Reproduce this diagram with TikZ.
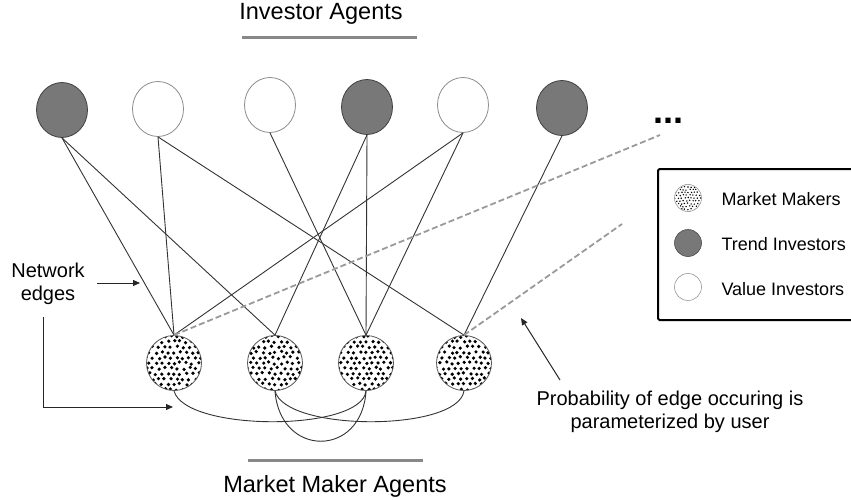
\documentclass[tikz,border=0pt]{standalone}
\usepackage{fontspec}
\setmainfont{Liberation Sans}
\usetikzlibrary{shapes.geometric,arrows.meta,calc}
\definecolor{trendgray}{HTML}{787878}
\definecolor{linegray}{HTML}{888888}
\definecolor{dashgray}{HTML}{9A9A9A}
\begin{document}
\begin{tikzpicture}[x=1pt,y=-1pt,
  inv/.style={ellipse, minimum width=51pt, minimum height=55pt, inner sep=0pt, line width=0.8pt},
  trend/.style={inv, fill=trendgray, draw=black!75},
  value/.style={inv, fill=white, draw=black!45},
  mmdots/.style 2 args={path picture={
    \foreach \j in {-5,...,5}{
      \foreach \i in {-5,...,5}{
        \fill[black] ($(path picture bounding box.center)+({(\i+0.5*mod(abs(\j),2))*#1+0.18*#1*rand},{\j*0.87*#1+0.18*#1*rand})$) circle (#2);
      }}}},
  mm/.style={circle, minimum size=55pt, inner sep=0pt, draw=black!65, line width=0.8pt, fill=white, mmdots={6.1}{1.8pt}},
  edge/.style={draw=black!80, line width=0.9pt},
  prob/.style={draw=dashgray, line width=1.8pt, dash pattern=on 6pt off 3pt},
  arr/.style={draw=black!85, line width=1pt, -{Triangle[length=7pt,width=6pt]}},
  bigtxt/.style={font=\fontsize{23.5}{28}\selectfont},
  midtxt/.style={font=\fontsize{20}{23}\selectfont},
  legtxt/.style={font=\fontsize{18}{21}\selectfont, anchor=base west},
  bar/.style={draw=linegray, line width=3pt}
]
\pgfmathsetseed{7}
\useasboundingbox (0,0) rectangle (851,500);

% titles
\node[bigtxt, anchor=base] (tinv) at (321,20) {Investor Agents};
\draw[bar] (242,38) -- (417,38);
\node[bigtxt, anchor=base] (tmm) at (335,492) {Market Maker Agents};
\draw[bar] (248,460) -- (423,460);

% investors
\node[trend] (i1) at (62,110) {};
\node[value] (i2) at (158,109) {};
\node[value] (i3) at (270,105) {};
\node[trend] (i4) at (367,107) {};
\node[value] (i5) at (463,105) {};
\node[trend] (i6) at (562,108) {};
\node[font=\fontsize{36}{40}\selectfont\bfseries, anchor=base west, inner sep=0pt] (dots) at (653,124) {...};

% market makers
\node[mm] (m1) at (174,363) {};
\node[mm] (m2) at (275,363) {};
\node[mm] (m3) at (366,363) {};
\node[mm] (m4) at (464,363) {};

% edges
\draw[edge] (i1.south) -- (m1.north);
\draw[edge] (i1.south) -- (m2.north);
\draw[edge] (i2.south) -- (m1.north);
\draw[edge] (i2.south) -- (m4.north);
\draw[edge] (i3.south) -- (m3.north);
\draw[edge] (i4.south) -- (m2.north);
\draw[edge] (i4.south) -- (m3.north);
\draw[edge] (i5.south) -- (m1.north);
\draw[edge] (i5.south) -- (m3.north);
\draw[edge] (i6.south) -- (m4.north);

% probabilistic edges
\coordinate (d1) at (660,135);
\coordinate (d2) at (622,224);
\draw[prob] (m1.north) -- (d1);
\draw[prob] (m4.north) -- (d2);

% market maker links
\draw[edge] (m1.south) .. controls (185,432) and (362,432) .. (m3.south);
\draw[edge] (m2.south) .. controls (285,432) and (458,432) .. (m4.south);
\draw[edge] (m2.south) .. controls (280,458) and (362,458) .. (m3.south);

% network edges annotation
\node[midtxt, align=center] (net) at (48,284) {Network\\edges};
\coordinate (na1) at (97,283);
\coordinate (nb1) at (140,283);
\draw[arr] (na1) -- (nb1);
\coordinate (na2) at (43,317);
\coordinate (nb2) at (173,407);
\draw[arr] (na2) |- (nb2);

% probability annotation
\node[midtxt, align=center] (ptxt) at (670,412) {Probability of edge occuring is\\parameterized by user};
\coordinate (pa) at (560,380);
\coordinate (pb) at (521,318);
\draw[arr] (pa) -- (pb);

% legend
\draw[line width=2pt, rounded corners=1.5pt] (658,169) rectangle (866,320);
\node[circle, minimum size=27pt, inner sep=0pt, draw=black!40, line width=0.6pt, mmdots={3.2}{0.8pt}] (lmm) at (688,198) {};
\node[circle, minimum size=27pt, inner sep=0pt, draw=black!70, fill=trendgray, line width=0.6pt] (ltr) at (688,243) {};
\node[circle, minimum size=27pt, inner sep=0pt, draw=black!40, fill=white, line width=0.6pt] (lva) at (688,287) {};
\node[legtxt] (lmmt) at (718,205) {Market Makers};
\node[legtxt] (ltrt) at (718,250) {Trend Investors};
\node[legtxt] (lvat) at (718,295) {Value Investors};
\end{tikzpicture}
\end{document}
